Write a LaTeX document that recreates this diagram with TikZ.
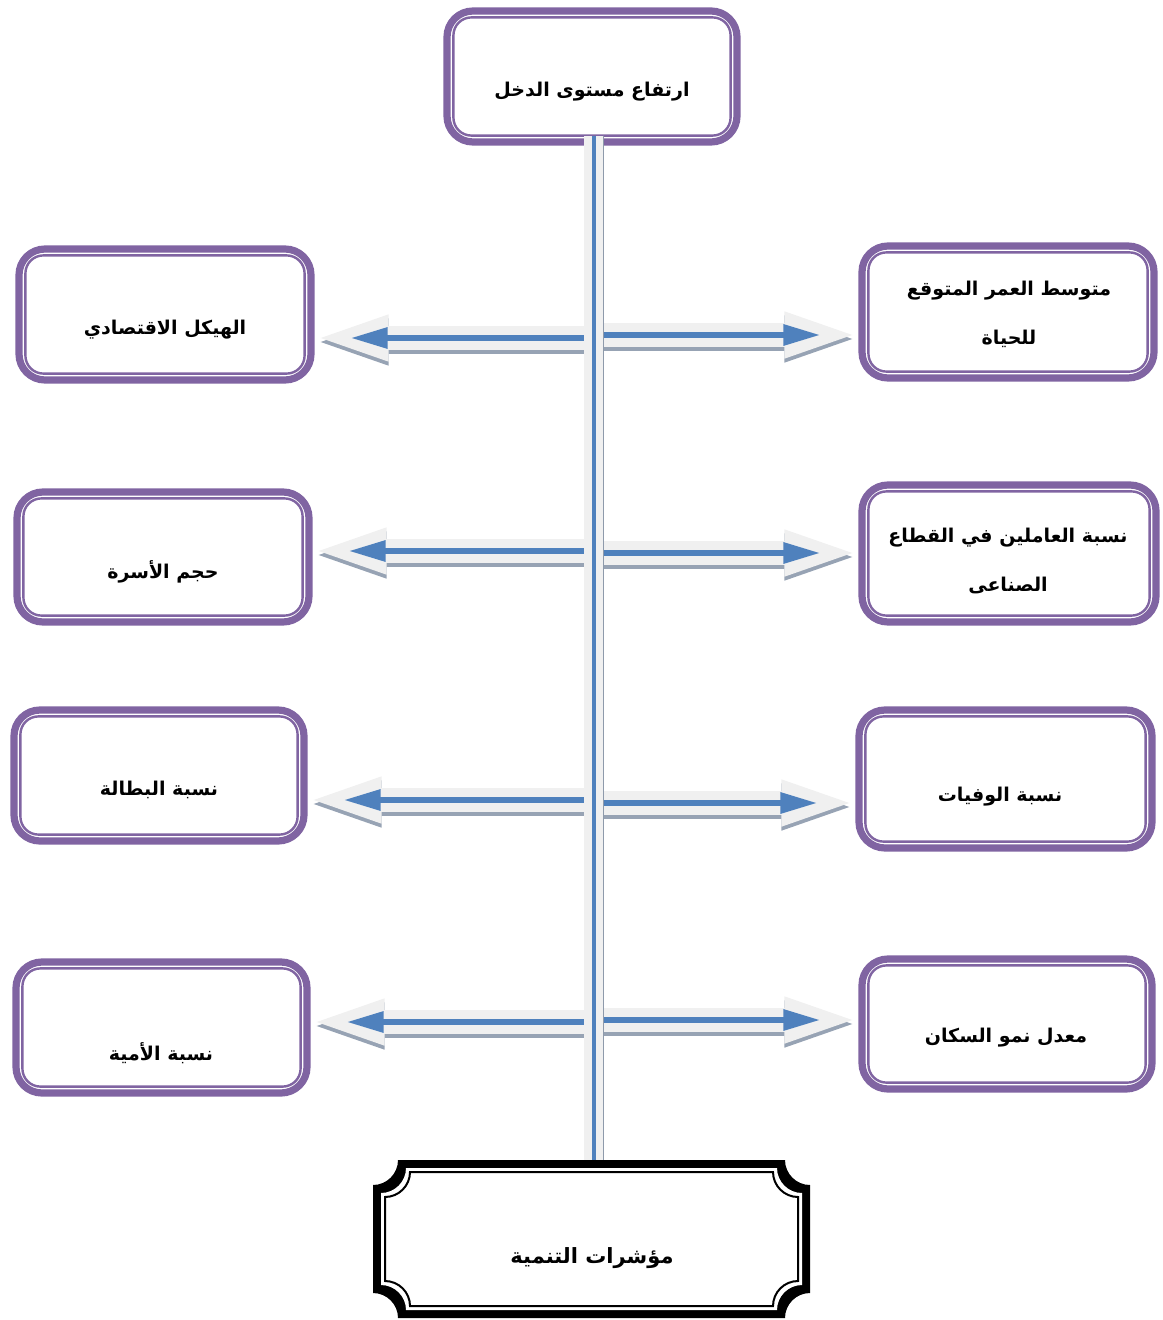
\documentclass[tikz,border=0pt]{standalone}
\usepackage{fontspec}
\newfontfamily\arabicfont[Script=Arabic]{DejaVu Sans}
\TeXXeTstate=1
\usetikzlibrary{arrows.meta,calc}
\definecolor{boxpurple}{HTML}{8064A2}
\definecolor{arrblue}{HTML}{4F81BD}
\definecolor{arrlight}{HTML}{F0F0F0}
\definecolor{arrshadow}{HTML}{97A3B4}
\definecolor{spinegray}{HTML}{8E9AAB}
\newcommand\artxt[1]{\beginR #1\endR}
\newcommand\cvframe[5]{({#1+#5},{#2}) -- ({#3-#5},{#2}) .. controls ({#3-#5},{#2+0.55*#5}) and ({#3-0.55*#5},{#2+#5}) .. ({#3},{#2+#5}) -- ({#3},{#4-#5}) .. controls ({#3-0.55*#5},{#4-#5}) and ({#3-#5},{#4-0.55*#5}) .. ({#3-#5},{#4}) -- ({#1+#5},{#4}) .. controls ({#1+#5},{#4-0.55*#5}) and ({#1+0.55*#5},{#4-#5}) .. ({#1},{#4-#5}) -- ({#1},{#2+#5}) .. controls ({#1+0.55*#5},{#2+#5}) and ({#1+#5},{#2+0.55*#5}) .. cycle}
\tikzset{
  pbox/.style={draw=boxpurple, line width=3.6pt, rounded corners=13pt, fill=white, inner sep=0pt},
  innerl/.style={draw=boxpurple, line width=1.2pt, rounded corners=9pt},
  lbl/.style={font=\arabicfont\bfseries\fontsize{9.5pt}{24.5pt}\selectfont, align=center, inner sep=0pt},
  blbl/.style={font=\arabicfont\bfseries\fontsize{10.5pt}{24pt}\selectfont, align=center, inner sep=0pt},
  arrshad/.style={draw=arrshadow, line width=12pt, -{Triangle[length=38.5pt,width=20pt]}},
  arrouter/.style={draw=arrlight, line width=12pt, -{Triangle[length=38.5pt,width=20pt]}},
  arrinner/.style={draw=arrblue, line width=3pt, -{Triangle[length=18.5pt,width=10pt]}},
}
\begin{document}
\begin{tikzpicture}[x=0.5pt,y=-0.5pt]
\useasboundingbox (0,0) rectangle (1162,1320);
% boxes
\node[pbox, minimum width=145pt, minimum height=65.5pt] (t) at (592,76.5) {};
\node[pbox, minimum width=146pt, minimum height=65.5pt] (l1) at (165,314.5) {};
\node[pbox, minimum width=146pt, minimum height=65pt] (l2) at (163,557) {};
\node[pbox, minimum width=145pt, minimum height=65.5pt] (l3) at (159,775.5) {};
\node[pbox, minimum width=145.5pt, minimum height=65.5pt] (l4) at (161.5,1027.5) {};
\node[pbox, minimum width=146pt, minimum height=66pt] (r1) at (1008,312) {};
\node[pbox, minimum width=147pt, minimum height=68.5pt] (r2) at (1009,553.5) {};
\node[pbox, minimum width=146.5pt, minimum height=69pt] (r3) at (1005.5,779) {};
\node[pbox, minimum width=145pt, minimum height=65pt] (r4) at (1007,1024) {};
\foreach \bx in {t,l1,l2,l3,l4,r1,r2,r3,r4}{
  \path (\bx.south west) ++(5pt,5pt) coordinate (\bx-isw);
  \path (\bx.north east) ++(-5pt,-5pt) coordinate (\bx-ine);
  \draw[innerl] (\bx-isw) rectangle (\bx-ine);
}
% bottom node
\node[minimum width=218.5pt, minimum height=79pt, inner sep=0pt] (b) at (591.5,1239) {};
% arrow start points on the spine
\coordinate (aL1) at (593,338);
\coordinate (aR1) at (593,335);
\coordinate (aL2) at (593,551);
\coordinate (aR2) at (593,553);
\coordinate (aL3) at (593,800);
\coordinate (aR3) at (593,803);
\coordinate (aL4) at (593,1022);
\coordinate (aR4) at (593,1020);
% shadows
\foreach \i in {1,2,3,4}{
  \draw[arrshad, shorten >=-1.5pt] ([yshift=-2pt]aL\i) -- ([yshift=-2pt]aL\i -| l\i.east);
  \draw[arrshad, shorten >=-1.5pt] ([yshift=-2pt]aR\i) -- ([yshift=-2pt]aR\i -| r\i.west);
}
\foreach \i in {1,2,3,4}{
  \draw[arrouter, shorten >=-1.5pt] (aL\i) -- (aL\i -| l\i.east);
  \draw[arrouter, shorten >=-1.5pt] (aR\i) -- (aR\i -| r\i.west);
}
\foreach \i in {1,2,3,4}{
  \draw[arrinner, shorten >=18pt] (aL\i) -- (aL\i -| l\i.east);
  \draw[arrinner, shorten >=19pt] (aR\i) -- (aR\i -| r\i.west);
}
% spine
\coordinate (sTop) at ([xshift=0.75pt,yshift=5pt]t.south);
\coordinate (sBot) at (sTop |- b.north);
\draw[arrlight, line width=10pt] (sTop) -- (sBot);
\draw[arrblue, line width=2pt] (sTop) -- (sBot);
\draw[spinegray, line width=0.8pt] ([xshift=5pt]sTop) -- ([xshift=5pt]sBot);
% bottom frame
\fill[black] \cvframe{373}{1160}{810}{1318}{25};
\fill[white] \cvframe{381}{1168}{802}{1310}{25};
\draw[black, line width=1pt] \cvframe{385}{1172}{798}{1306}{25};
% texts
\node[lbl] (tt) at (592,92) {\artxt{ارتفاع مستوى الدخل}};
\node[lbl] (l1t) at (165,330) {\artxt{الهيكل الاقتصادي}};
\node[lbl] (l2t) at (163,572) {\artxt{حجم الأسرة}};
\node[lbl] (l3t) at (159,790) {\artxt{نسبة البطالة}};
\node[lbl] (l4t) at (161,1053) {\artxt{نسبة الأمية}};
\node[lbl] (r1t) at (1009,314) {\artxt{متوسط العمر المتوقع}\\\artxt{للحياة}};
\node[lbl] (r2t) at (1008,561) {\artxt{نسبة العاملين في القطاع}\\\artxt{الصناعى}};
\node[lbl] (r3t) at (1000,797) {\artxt{نسبة الوفيات}};
\node[lbl] (r4t) at (1006,1038) {\artxt{معدل نمو السكان}};
\node[blbl] (bt) at (592,1258) {\artxt{مؤشرات التنمية}};
\end{tikzpicture}
\end{document}
